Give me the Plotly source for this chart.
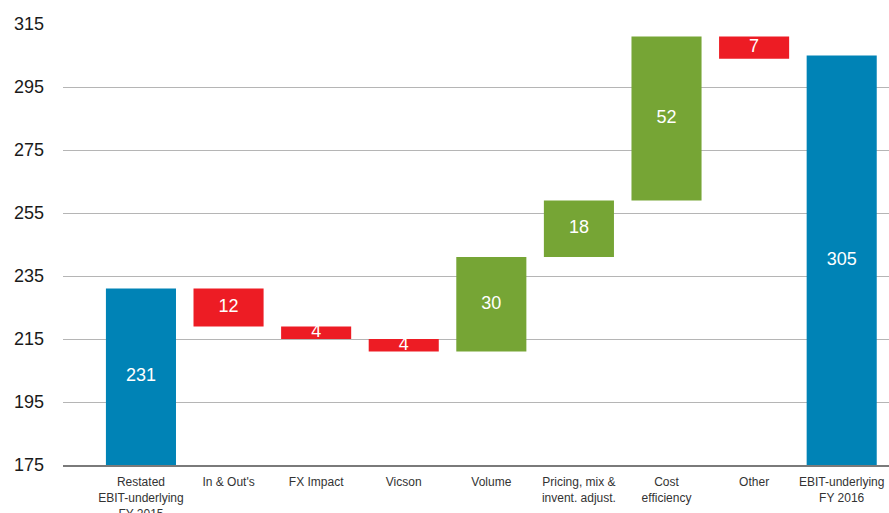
import plotly.graph_objects as go

# EBIT bridge FY2015 -> FY2016 (EUR million)
categories = [
    "Restated<br>EBIT-underlying<br>FY 2015",
    "In & Out's",
    "FX Impact",
    "Vicson",
    "Volume",
    "Pricing, mix &<br>invent. adjust.",
    "Cost<br>efficiency",
    "Other",
    "EBIT-underlying<br>FY 2016",
]
values = [231, -12, -4, -4, 30, 18, 52, -7, 305]
measures = ["total", "step", "step", "step", "step", "step", "step", "step", "total"]
labels = ["231", "12", "4", "4", "30", "18", "52", "7", "305"]

y_min, y_max = 175, 315
y_ticks = [175, 195, 215, 235, 255, 275, 295, 315]

BLUE = "#0083b6"
RED = "#ed1c24"
GREEN = "#76a535"
FONT = "Liberation Sans, Arial, sans-serif"

# Build floating bars: totals rise from the axis floor, steps float on the running total
bases, heights, colors = [], [], []
running = 0
for v, m in zip(values, measures):
    if m == "total":
        running = v
        bases.append(y_min)
        heights.append(v - y_min)
        colors.append(BLUE)
    else:
        start = running
        running = running + v
        bases.append(min(start, running))
        heights.append(abs(v))
        colors.append(GREEN if v > 0 else RED)

xs = list(range(len(categories)))
mids = [b + h / 2 for b, h in zip(bases, heights)]

fig = go.Figure()
fig.add_trace(
    go.Bar(
        x=xs,
        y=heights,
        base=bases,
        marker=dict(color=colors, line=dict(width=0)),
        width=0.8,
        hoverinfo="skip",
    )
)
# Value labels centred on each bar, kept at full size even on thin bars
fig.add_trace(
    go.Scatter(
        x=xs,
        y=mids,
        mode="text",
        text=labels,
        textposition="middle center",
        textfont=dict(family=FONT, size=18, color="white"),
        hoverinfo="skip",
    )
)

fig.update_layout(
    width=889,
    height=513,
    margin=dict(l=63, r=0, t=24, b=48),
    paper_bgcolor="white",
    plot_bgcolor="white",
    showlegend=False,
    font=dict(family=FONT, color="#222222"),
)

fig.update_xaxes(
    range=[-0.89, 8.54],
    tickvals=xs,
    ticktext=categories,
    tickfont=dict(size=12, color="#333333"),
    showgrid=False,
    showline=True,
    linecolor="#7a7a7a",
    linewidth=2,
    ticks="",
    zeroline=False,
    ticklabelstandoff=5,
    automargin=False,
)

fig.update_yaxes(
    range=[y_min, y_max],
    tickvals=y_ticks,
    tickfont=dict(size=18, color="#1a1a1a"),
    showgrid=True,
    gridcolor="#b5b5b5",
    gridwidth=1,
    showline=False,
    zeroline=False,
    ticks="",
    ticklabelstandoff=18,
    automargin=False,
)

fig.write_html("out.html")
